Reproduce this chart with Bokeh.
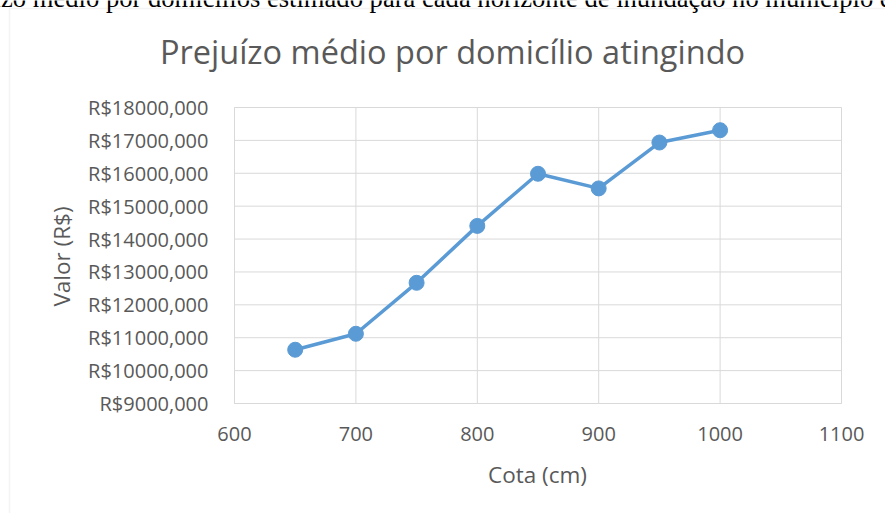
from bokeh.plotting import figure
from bokeh.models import Range1d, FixedTicker, Label, BoxAnnotation
from bokeh.embed import file_html
from bokeh.resources import INLINE
import math

# Data
cota = [650, 700, 750, 800, 850, 900, 950, 1000]
valor = [10635, 11120, 12670, 14400, 15985, 15540, 16935, 17310]

x_ticks = [600, 700, 800, 900, 1000, 1100]
y_ticks = [9000, 10000, 11000, 12000, 13000, 14000, 15000, 16000, 17000, 18000]
y_tick_labels = ["R$9000,000", "R$10000,000", "R$11000,000", "R$12000,000", "R$13000,000",
                 "R$14000,000", "R$15000,000", "R$16000,000", "R$17000,000", "R$18000,000"]

title_text = "Prejuízo médio por domicílio atingindo"
caption_text = "Prejuízo médio por domicílios estimado para cada horizonte de inundação no município e"
x_title = "Cota (cm)"
y_title = "Valor (R$)"

FONT = "Open Sans"
TXT = "#595959"
GRID = "#D9D9D9"
BLUE = "#5B9BD5"

W, H = 885, 513
# plot-area pixel box (left, right, top, bottom)
PL, PR, PT, PB = 234, 841, 107, 403

x0, x1 = x_ticks[0], x_ticks[-1]
y0, y1 = y_ticks[0], y_ticks[-1]
kx = (PR - PL) / (x1 - x0)
ky = (PB - PT) / (y1 - y0)
x_range = Range1d(x0 - PL / kx, x1 + (W - PR) / kx)
y_range = Range1d(y0 - (H - PB) / ky, y1 + PT / ky)

p = figure(width=W, height=H, output_backend="svg", toolbar_location=None,
           x_range=x_range, y_range=y_range,
           min_border_left=0, min_border_right=0, min_border_top=0, min_border_bottom=0)
p.outline_line_color = None
p.background_fill_color = "white"
p.border_fill_color = "white"
p.grid.visible = False

# gridlines of the plot area
p.segment(x0=x_ticks, y0=[y0] * len(x_ticks), x1=x_ticks, y1=[y1] * len(x_ticks),
          line_color=GRID, line_width=1)
p.segment(x0=[x0] * len(y_ticks), y0=y_ticks, x1=[x1] * len(y_ticks), y1=y_ticks,
          line_color=GRID, line_width=1)

p.xaxis.ticker = FixedTicker(ticks=x_ticks)
p.yaxis.ticker = FixedTicker(ticks=y_ticks)
p.yaxis.major_label_overrides = {t: l for t, l in zip(y_ticks, y_tick_labels)}
p.xaxis.fixed_location = y0
p.yaxis.fixed_location = x0
p.xaxis.bounds = (x0, x1)
p.yaxis.bounds = (y0, y1)

for ax in (p.xaxis, p.yaxis):
    ax.major_tick_line_color = None
    ax.minor_tick_line_color = None
    ax.major_tick_out = 0
    ax.major_tick_in = 0
    ax.major_label_text_font = FONT
    ax.major_label_text_font_size = "20px"
    ax.major_label_text_color = TXT
p.xaxis.axis_line_color = GRID
p.yaxis.axis_line_color = GRID
p.yaxis.major_label_standoff = 26
p.xaxis.major_label_standoff = 23

p.line(cota, valor, line_color=BLUE, line_width=3.5)
p.scatter(cota, valor, size=15, fill_color=BLUE, line_color=BLUE)

# chart area border (Excel chart box)
p.add_layout(BoxAnnotation(left=9, right=W + 20, top=H - 8, bottom=-20,
                           left_units="screen", right_units="screen",
                           top_units="screen", bottom_units="screen",
                           fill_alpha=0, line_color=GRID, line_width=1.5))

p.add_layout(Label(x=452, y=H - 51, x_units="screen", y_units="screen",
                   text=title_text, text_align="center", text_baseline="middle",
                   text_font=FONT, text_font_size="32.5px", text_color=TXT))
p.add_layout(Label(x=537, y=H - 474, x_units="screen", y_units="screen",
                   text=x_title, text_align="center", text_baseline="middle",
                   text_font=FONT, text_font_size="22.5px", text_color=TXT))
p.add_layout(Label(x=61, y=H - 256, x_units="screen", y_units="screen",
                   text=y_title, text_align="center", text_baseline="middle",
                   angle=math.pi / 2, text_font=FONT, text_font_size="22.5px", text_color=TXT))
p.add_layout(Label(x=-63, y=H + 3, x_units="screen", y_units="screen",
                   text=caption_text, text_align="left", text_baseline="middle",
                   text_font="Liberation Serif", text_font_size="26.6px", text_color="black"))

open("out.html", "w").write(file_html(p, INLINE))
